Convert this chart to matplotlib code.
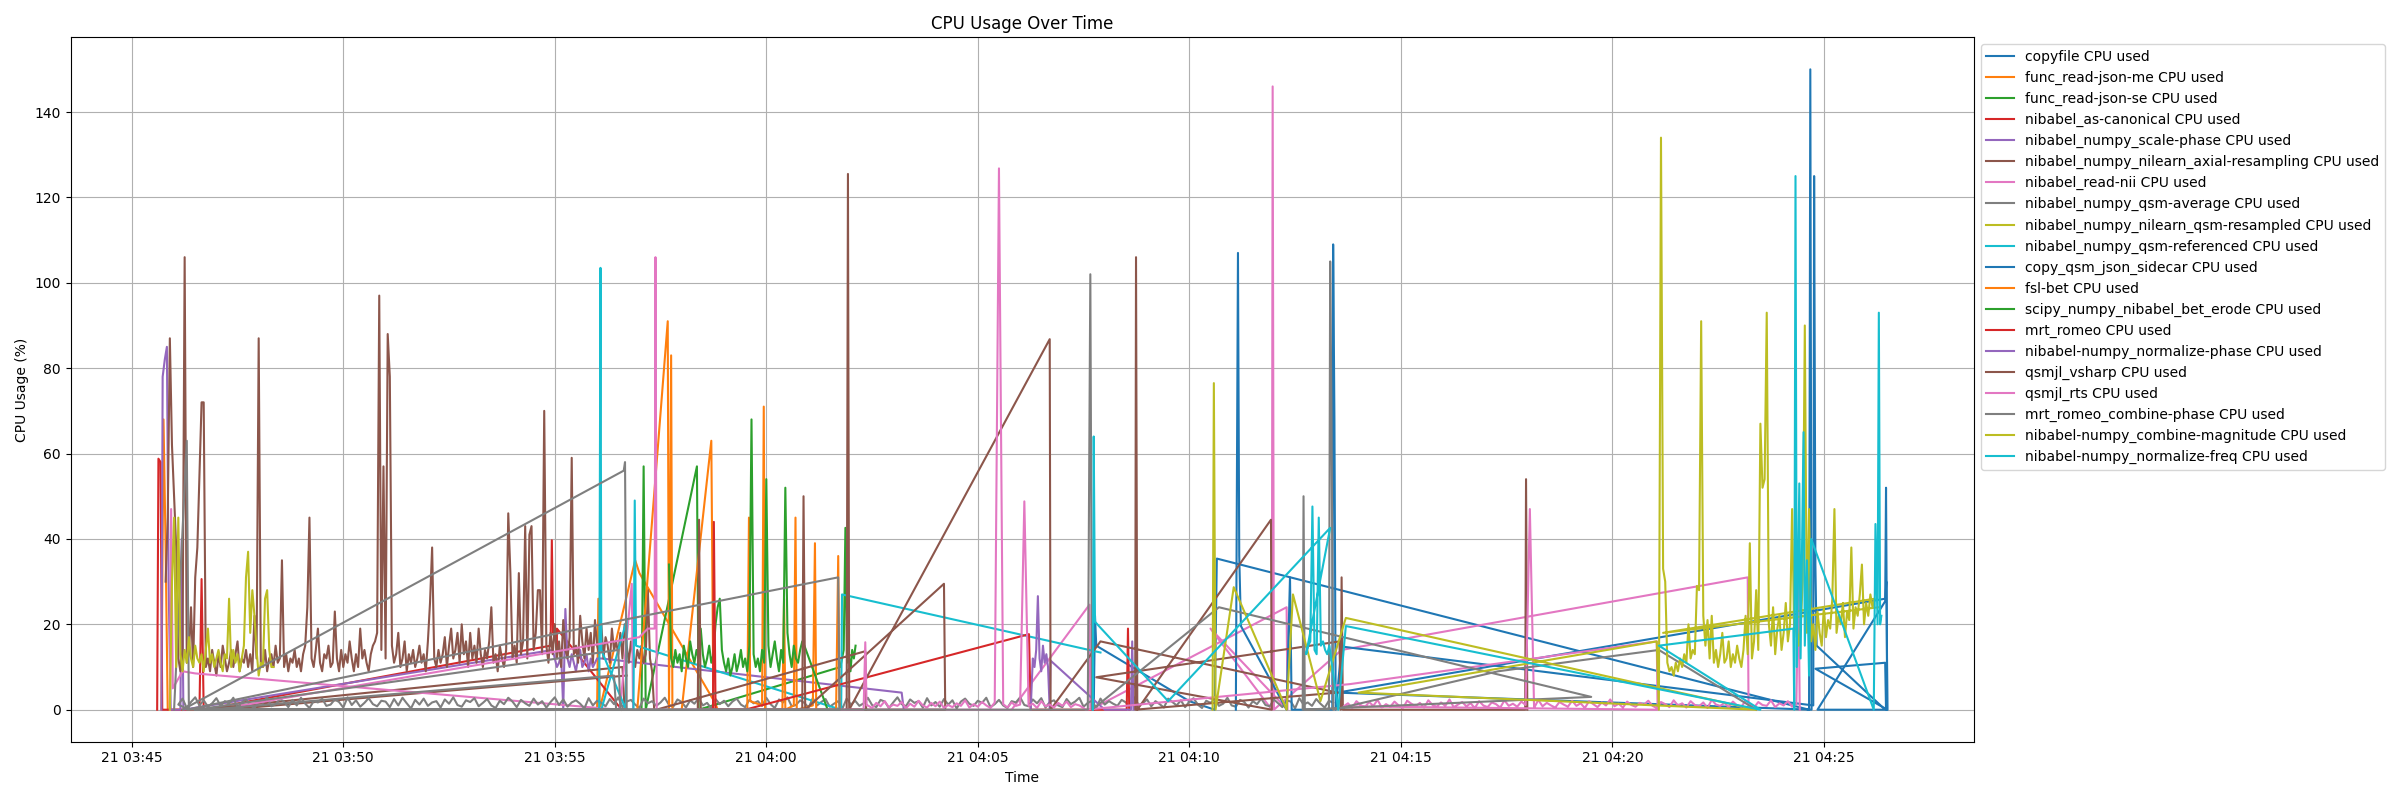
import numpy as np
import matplotlib
matplotlib.use("Agg")
import matplotlib.pyplot as plt

# times are minutes after 2024-01-21 03:45:00, values are CPU %
BASE = np.datetime64("2024-01-21T03:45:00")

labels = [
    "copyfile", "func_read-json-me", "func_read-json-se", "nibabel_as-canonical",
    "nibabel_numpy_scale-phase", "nibabel_numpy_nilearn_axial-resampling",
    "nibabel_read-nii", "nibabel_numpy_qsm-average",
    "nibabel_numpy_nilearn_qsm-resampled", "nibabel_numpy_qsm-referenced",
    "copy_qsm_json_sidecar", "fsl-bet", "scipy_numpy_nibabel_bet_erode",
    "mrt_romeo", "nibabel-numpy_normalize-phase", "qsmjl_vsharp", "qsmjl_rts",
    "mrt_romeo_combine-phase", "nibabel-numpy_combine-magnitude",
    "nibabel-numpy_normalize-freq",
]

# --- sampled runs: (start minute, step minutes, values) ---
axial_noise = (0.8, 0.05, [
    30, 45, 87, 62, 50, 38, 12, 9, 14, 106, 11, 13, 24, 10, 31, 38, 55, 72, 72, 10,
    12, 9, 14, 11, 8, 13, 10, 15, 12, 9, 11, 14, 10, 13, 16, 9, 12, 11, 14, 10,
    13, 9, 22, 12, 87, 11, 10, 14, 9, 12, 13, 10, 15, 11, 12, 35, 10, 13, 9, 12,
    11, 14, 10, 12, 9, 13, 15, 24, 45, 12, 10, 14, 19, 11, 9, 13, 12, 15, 10, 11,
    23, 12, 9, 14, 10, 13, 11, 16, 12, 9, 13, 10, 19, 12, 14, 11, 9, 13, 15, 16,
    18, 97, 14, 57, 12, 88, 78, 15, 11, 13, 18, 10, 12, 16, 9, 13, 11, 14, 10, 12,
    15, 11, 13, 9, 16, 25, 38, 12, 10, 14, 11, 13, 17, 10, 15, 19, 12, 14, 18, 11,
    20, 13, 16, 10, 18, 12, 15, 11, 19, 13, 10, 14, 12, 16, 24, 11, 13, 9, 15, 12,
    10, 14, 46, 32, 12, 15, 11, 32, 13, 16, 43, 12, 41, 43, 14, 18, 28, 28, 13, 70,
    15, 11, 18, 13, 20, 12, 16, 10, 21, 14, 12, 17, 59, 13, 15, 11, 22, 16, 12, 19,
    14, 18, 11, 21, 15, 13, 20, 12, 17, 15, 11, 19, 14, 16, 13, 18, 12, 20, 15, 11,
    16, 13, 10, 14, 12, 15, 11, 13, 28, 12, 9])

qsm_average_noise = (1.1, 0.1, [
    1.2, 2.6, 0.4, 1.8, 2.9, 1.0, 2.2, 0.7, 1.5, 2.7, 0.9, 2.0, 1.4, 2.8, 0.5, 1.7, 2.4, 1.1, 0.3, 2.1,
    1.6, 2.9, 0.8, 1.3, 2.5, 1.9, 0.6, 2.3, 1.0, 2.8, 1.4, 0.4, 2.0, 1.7, 2.6, 0.9, 1.2, 2.4, 1.8, 0.5,
    2.9, 1.1, 2.2, 0.7, 1.6, 2.7, 1.3, 0.8, 2.1, 1.9, 0.6, 2.5, 1.0, 2.8, 1.5, 0.3, 2.3, 1.2, 2.6, 0.9,
    1.7, 2.0, 0.5, 2.4, 1.4, 2.9, 1.1, 0.7, 2.2, 1.8, 2.7, 0.8, 1.6, 2.5, 1.0, 0.4, 2.1, 1.3, 2.8, 1.9,
    0.6, 2.3, 1.5, 0.9, 2.6, 1.2, 2.0, 0.5, 1.8, 2.9, 1.1, 2.4, 0.7, 1.7, 2.2, 1.4, 0.3, 2.7, 1.0, 2.1,
    1.6, 0.8, 2.5, 1.3, 2.9, 0.6, 1.9, 2.3, 1.2, 0.4, 2.6, 1.5, 2.0, 0.9, 1.7, 2.8, 1.1, 0.7, 2.4, 1.8,
    0.5, 2.2, 1.4, 2.7, 1.0, 1.6, 0.3, 2.5, 1.3, 2.1, 0.8, 1.9, 2.6, 1.2, 0.6, 2.3, 1.5, 2.0, 0.9, 2.8,
    1.3, 0.4, 2.4, 1.7, 2.9, 0.8, 1.1, 2.2, 1.6, 0.5, 2.7, 1.0, 1.8, 2.5, 0.7, 1.4, 2.0, 0.3, 2.6, 1.2,
    2.1, 0.9, 1.5, 2.8, 1.1, 0.6, 2.3, 1.9, 0.4, 1.7, 2.9, 1.3, 0.8, 2.4, 1.6, 2.0, 0.5, 2.7, 1.0, 1.8,
    0.7, 2.5, 1.2, 2.2, 0.3, 1.9, 2.6, 1.4, 0.9, 2.1, 1.6, 2.8, 0.6, 1.3, 2.3, 1.0, 0.4, 2.0, 1.7, 2.9,
    1.1, 0.8, 2.4, 1.5, 2.7, 0.5, 1.8, 2.2, 1.0, 0.6, 2.5, 1.3, 1.9, 2.8, 0.7, 1.6, 2.1, 0.4, 2.6, 1.2,
    2.0, 1.4, 0.9, 2.3, 1.7, 0.3, 2.9, 1.1, 1.5, 2.4, 0.8, 2.0, 1.3, 0.5, 2.6, 1.8, 1.0, 2.2, 0.6, 1.9,
    2.7, 1.2, 0.4, 2.1, 1.6, 2.5, 0.9, 1.4, 2.8, 1.0, 0.7, 2.3, 1.8, 0.5, 2.0, 1.3, 2.6, 1.1, 0.8, 2.4,
    1.5, 0.6, 2.2, 1.9, 0.3, 2.7, 1.2, 1.7, 0.9, 2.5, 1.4, 0.5, 2.1, 1.6])

resampled_noise = (0.9, 0.05, [
    0, 30, 45, 10, 45, 13, 9, 14, 11, 17, 12, 10, 15, 12, 11, 13, 9, 14, 19, 11,
    13, 10, 12, 14, 11, 9, 13, 12, 26, 10, 14, 11, 13, 9, 12, 15, 31, 37, 18, 28,
    22, 14, 8, 11, 10, 26, 28, 14, 10])

magnitude_noise = (36.1, 0.05, [
    0, 134, 33, 30, 11, 9, 10, 8, 11, 9, 12, 10, 13, 11, 20, 12, 14, 13, 29, 28,
    91, 22, 15, 21, 12, 22, 11, 14, 10, 13, 18, 11, 12, 16, 10, 13, 11, 15, 12, 10,
    14, 22, 13, 39, 12, 16, 28, 14, 67, 52, 54, 93, 20, 15, 24, 13, 19, 22, 14, 18,
    25, 16, 20, 47, 17, 22, 15, 19, 30, 90, 18, 47, 16, 20, 14, 23, 18, 15, 24, 17,
    21, 19, 26, 47, 18, 22, 20, 25, 17, 23, 21, 38, 19, 24, 22, 27, 34, 20, 25, 22,
    27, 24, 26])

bet_erode_noise = (12.7, 0.05, [
    34, 12, 10, 14, 11, 13, 9, 15, 12, 10, 16, 13, 11, 14, 12, 19, 13, 10, 12, 15,
    11, 13, 20, 24, 26, 14, 11, 9, 12, 8, 10, 13, 9, 11, 14, 10, 12, 9, 15, 68,
    13, 10, 12, 9, 14, 11, 54, 15, 10, 13, 16, 12, 9, 14, 11, 52, 18, 13, 10, 15,
    12, 11, 14, 16, 15])

read_json_se_noise = (16.75, 0.04, [10, 12, 14, 42.6, 11, 13, 9, 14, 12, 15])

scale_phase_noise = (9.95, 0.05, [
    14, 12, 10, 11, 13, 0, 23.6, 12, 10, 13, 11, 9, 12, 14, 10, 11, 13, 9, 12, 10,
    11, 12])

normalize_phase_noise = (21.3, 0.04, [12, 10, 14, 26.6, 12, 9, 15, 11, 13, 10])

romeo_noise = (9.9, 0.03, [15, 39.7, 18, 20, 16, 14])

rts_mid_noise = (17.4, 0.1, [
    1.0, 0.4, 1.6, 0.8, 2.0, 0.5, 1.2, 0.9, 1.8, 0.3, 1.4, 0.7, 2.1, 1.0, 0.5, 1.6, 0.8, 1.9, 0.4, 1.1,
    0.6, 1.5, 0.9, 2.2, 0.5, 1.3, 0.7, 1.8, 1.0, 0.4, 1.7, 126.8, 1.3, 0.5, 1.7, 0.9, 1.2, 48.8, 0.9, 1.4,
    0.4, 2.0, 0.8, 1.2, 0.5, 1.6, 0.9, 1.9, 0.6, 1.3, 1.0, 0.4])

rts_late_noise = (28.65, 0.1, [
    0.8, 1.5, 0.4, 2.0, 1.1, 0.6, 1.8, 0.9, 2.3, 0.5, 1.3, 0.7, 1.9, 1.0, 0.4, 2.1, 1.4, 0.8, 1.6, 0.5,
    2.2, 1.1, 0.7, 1.7, 0.9, 2.4, 0.6, 1.2, 1.8, 0.8, 1.5, 0.4, 2.0, 1.0, 0.6, 1.7, 1.3, 0.5, 2.2, 0.9,
    1.4, 0.7, 1.9, 1.1, 47.0, 0.4, 2.3, 0.8, 1.6, 1.0, 0.5, 1.8, 1.2, 0.7, 2.1, 0.9, 1.5, 0.4, 2.0, 1.3,
    0.6, 1.7, 1.0, 2.4, 0.8, 1.4, 0.5, 1.9, 1.1, 0.7, 1.6, 1.2, 2.1, 0.9, 0.4, 1.8, 1.3, 0.6, 2.2, 1.0,
    1.5, 0.5, 2.0, 1.1, 0.8, 1.7, 0.4, 2.3, 1.2, 0.9, 1.6, 0.6, 1.9, 1.0, 0.7, 2.1, 1.4, 0.5, 1.8, 1.1,
    0.9, 2.2, 0.6, 1.5, 1.0, 2.0, 0.7, 1.3])

freq_noise = (27.76, 0.05, [13, 15, 16, 47.6, 14, 13, 45, 15, 16, 14, 13, 15])

# --- explicit points: (minute, value) ---
copyfile_pts = [(22.74, 0), (22.77, 22), (22.8, 15), (25.0, 2), (25.6, 0), (25.65, 35.4),
                (39.65, 0), (39.68, 150), (39.71, 0), (28.5, 4), (41.45, 26), (41.48, 30),
                (41.5, 0), (39.8, 9.6), (41.45, 11), (41.47, 0)]
sidecar_pts = [(26.1, 0), (26.15, 107), (26.18, 36), (26.22, 19.6), (27.3, 0), (27.38, 31),
               (27.42, 0), (28.38, 0), (28.4, 109), (28.43, 68), (28.46, 0), (28.6, 14.8),
               (39.75, 1), (39.77, 125), (39.8, 34), (39.83, 15), (41.45, 0), (39.85, 0),
               (41.45, 25.4), (41.47, 52), (41.5, 0)]
read_json_me_pts = [(0.7, 0), (0.75, 68), (0.8, 38), (0.85, 0), (11.0, 0), (11.03, 26),
                    (11.06, 0), (11.9, 35), (12.0, 32), (13.8, 1.4), (13.85, 0)]
fsl_bet_pts = [(11.95, 0), (12.67, 91), (12.7, 0), (12.75, 83), (12.78, 0), (13.0, 0),
               (13.7, 63), (13.75, 0), (14.55, 0), (14.59, 45), (14.62, 2), (14.9, 1),
               (14.94, 71), (14.97, 0), (15.38, 0), (15.42, 26), (15.45, 0), (15.65, 1),
               (15.69, 45), (15.72, 0), (16.1, 1), (16.15, 39), (16.18, 0), (16.65, 0),
               (16.7, 36), (16.73, 0)]
read_json_se_pts = [(12.05, 0), (12.1, 57), (12.15, 0), (13.36, 57), (13.4, 0)]
bet_erode_tail = [(16.45, 0)]
canonical_pts = [(0.6, 0), (0.63, 58.8), (0.68, 58), (0.72, 0), (1.6, 0), (1.65, 30.6),
                 (1.7, 0)]
canonical_tail = [(10.05, 19), (11.58, 0)]
romeo_pts = [(13.74, 0), (13.76, 44), (13.8, 0), (14.5, 0), (21.21, 17.7), (21.25, 0),
             (23.52, 0), (23.55, 19), (23.58, 0)]
scale_phase_pts = [(0.7, 0), (0.73, 78), (0.78, 82), (0.83, 85), (0.87, 30), (0.92, 0),
                   (1.15, 0), (1.18, 40), (1.22, 0)]
scale_phase_tail = [(11.1, 12), (18.2, 4), (18.25, 0)]
normalize_phase_pts = [(21.25, 0)]
normalize_phase_tail = [(21.7, 0), (21.72, 11.5), (23.0, 0), (23.62, 0), (23.65, 16),
                        (23.68, 0)]
axial_tail = [(12.35, 0), (1.6, 0), (11.6, 10), (11.65, 0), (2.2, 0), (11.7, 8)]
vsharp_pts = [(12.4, 0), (17.34, 13.7), (17.36, 0), (13.38, 0), (13.41, 44.5), (13.45, 0),
              (15.85, 0), (15.88, 50), (15.92, 0), (19.2, 29.5), (19.23, 0), (16.9, 0),
              (16.93, 125.5), (16.96, 0), (21.7, 86.8), (21.72, 0), (22.9, 16), (28.5, 4),
              (23.72, 0), (23.74, 106), (23.77, 0), (26.93, 44.5), (26.95, 0), (22.8, 7.6),
              (28.55, 16), (28.58, 0), (28.6, 31), (28.63, 0), (32.94, 0), (32.96, 54),
              (32.99, 0)]
read_nii_pts = [(0.9, 0), (0.93, 47), (0.97, 5), (1.2, 9), (1.5, 8.5), (11.5, 0), (11.55, 1),
                (11.82, 29.5), (11.85, 0), (20.8, 0), (22.64, 24.6), (22.66, 0), (27.3, 24),
                (27.32, 0), (25.5, 19), (26.95, 0), (26.97, 146), (27.0, 0), (28.6, 14),
                (38.2, 31), (38.22, 0)]
rts_pts = [(2.6, 1), (12.0, 17), (12.2, 19), (12.36, 19), (12.38, 106), (12.41, 0),
           (17.3, 0), (17.34, 15.8), (17.37, 1)]
rts_mid = [(22.55, 0), (28.8, 6), (36.05, 16), (36.07, 0)]
rts_tail = [(39.4, 31.6), (39.43, 0)]
qsm_average_pts = [(1.0, 0), (1.3, 63), (1.35, 0)]
combine_phase_pts = [(1.2, 0), (11.63, 56), (11.66, 58), (11.7, 0), (1.3, 0), (11.4, 20.6),
                     (16.7, 31), (16.73, 0), (1.5, 0), (11.5, 14), (11.55, 0), (1.8, 0),
                     (11.4, 8), (11.45, 0), (22.6, 0), (22.66, 102), (22.7, 0), (25.7, 24),
                     (34.5, 3), (27.68, 0), (27.7, 50), (27.73, 0), (28.3, 0), (28.33, 105),
                     (28.36, 70), (28.4, 0), (32.3, 9), (36.1, 14), (38.4, 0)]
resampled_tail = [(3.35, 10)]
magnitude_pts = [(25.55, 0), (25.58, 76.5), (25.62, 0), (26.05, 28.7), (27.3, 0),
                 (27.45, 27), (28.1, 2), (28.7, 21.5), (38.4, 0), (29.0, 4), (36.05, 16)]
magnitude_tail = [(36.2, 18), (41.3, 24)]
referenced_pts = [(11.05, 0), (11.08, 103.5), (11.1, 14), (11.68, 0), (11.7, 21), (11.1, 0),
                  (11.86, 0), (11.89, 49), (11.92, 15), (16.77, 0), (16.79, 27), (22.9, 13.4)]
freq_pts = [(22.72, 0), (22.74, 64), (22.77, 20.6), (24.5, 2), (28.33, 42.6)]
freq_tail = [(28.52, 0), (28.7, 19.6), (38.5, 0), (36.1, 15), (39.28, 19), (39.3, 0),
             (39.33, 125), (39.36, 10), (39.42, 53), (39.45, 12), (39.52, 65), (39.55, 15),
             (39.6, 35), (39.65, 8), (39.7, 40), (41.18, 0), (41.22, 43.5), (41.27, 20),
             (41.3, 93), (41.33, 20), (41.36, 22)]


def run(noise):
    start, step, vals = noise
    return [(start + i * step, v) for i, v in enumerate(vals)]


def to_xy(pts):
    t = np.array([p[0] for p in pts])
    v = np.array([p[1] for p in pts], dtype=float)
    times = BASE + (t * 60000).round().astype("timedelta64[ms]")
    return times, v


def main():
    series = [
        copyfile_pts,
        read_json_me_pts,
        read_json_se_pts + run(read_json_se_noise),
        canonical_pts + run(romeo_noise) + canonical_tail,
        scale_phase_pts + run(scale_phase_noise) + scale_phase_tail,
        run(axial_noise) + axial_tail,
        read_nii_pts,
        qsm_average_pts + run(qsm_average_noise),
        run(resampled_noise) + resampled_tail,
        referenced_pts,
        sidecar_pts,
        fsl_bet_pts,
        run(bet_erode_noise) + bet_erode_tail,
        romeo_pts,
        normalize_phase_pts + run(normalize_phase_noise) + normalize_phase_tail,
        vsharp_pts,
        rts_pts + run(rts_mid_noise) + rts_mid + run(rts_late_noise) + rts_tail,
        combine_phase_pts,
        magnitude_pts + run(magnitude_noise) + magnitude_tail,
        freq_pts + run(freq_noise) + freq_tail,
    ]

    fig, ax = plt.subplots(figsize=(24, 8), dpi=100)
    for name, pts in zip(labels, series):
        x, y = to_xy(pts)
        ax.plot(x, y, label=f"{name} CPU used")

    ax.set_title("CPU Usage Over Time")
    ax.set_xlabel("Time")
    ax.set_ylabel("CPU Usage (%)")
    ax.grid(True)
    ax.legend(loc="upper left", bbox_to_anchor=(1, 1))
    fig.tight_layout()
    fig.savefig("out.png")


if __name__ == "__main__":
    main()
